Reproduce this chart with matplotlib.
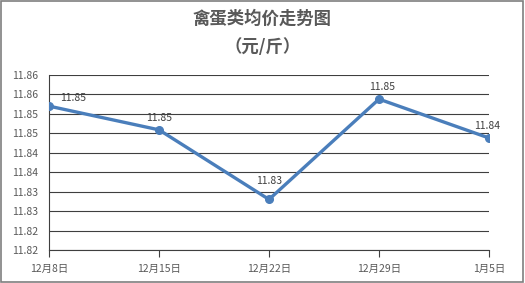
import matplotlib
matplotlib.use("Agg")
import matplotlib.pyplot as plt
from matplotlib.patches import Rectangle

plt.rcParams['font.family'] = ['Noto Sans CJK SC', 'DejaVu Sans']

dates = ['12月8日', '12月15日', '12月22日', '12月29日', '1月5日']
prices = [11.852, 11.8459, 11.828, 11.8538, 11.8438]
price_labels = ['11.85', '11.85', '11.83', '11.85', '11.84']
y_ticks = [11.815, 11.820, 11.825, 11.830, 11.835, 11.840, 11.845, 11.850, 11.855, 11.860]
y_tick_labels = ['11.82', '11.82', '11.83', '11.83', '11.84', '11.84', '11.85', '11.85', '11.86', '11.86']

line_color = '#4a7ebb'
text_color = '#595959'
grid_color = '#3f3f3f'

fig = plt.figure(figsize=(5.25, 2.83), dpi=100)
ax = fig.add_axes([49 / 525, 33 / 283, 440 / 525, 175 / 283])

# chart border
fig.patches.append(Rectangle((0.002, 0.004), 0.995, 0.992, transform=fig.transFigure,
                             fill=False, edgecolor='#7f7f7f', linewidth=1.2))

x = list(range(len(dates)))
ax.plot(x, prices, '-o', color=line_color, linewidth=2.4, markersize=5.5, zorder=3)

offsets = [(17, 2), (0, 5), (0, 10), (2, 5), (-1, 5)]
for i, (v, lab) in enumerate(zip(prices, price_labels)):
    ax.annotate(lab, (x[i], v), xytext=offsets[i], textcoords='offset points',
                ha='center', va='bottom', fontsize=7.5, color='#404040')

ax.set_xlim(0, len(dates) - 1)
ax.set_ylim(y_ticks[0], y_ticks[-1])
ax.set_yticks(y_ticks)
ax.set_yticklabels(y_tick_labels)
ax.set_xticks(x)
ax.set_xticklabels(dates)
ax.grid(axis='y', color=grid_color, linewidth=0.8)
ax.set_axisbelow(True)

for s in ['top', 'right']:
    ax.spines[s].set_visible(False)
for s in ['left', 'bottom']:
    ax.spines[s].set_color(grid_color)
    ax.spines[s].set_linewidth(0.8)

ax.tick_params(axis='y', length=0, labelsize=7.5, labelcolor=text_color, pad=8)
ax.tick_params(axis='x', length=5, direction='out', color=grid_color,
               labelsize=7.5, labelcolor=text_color, pad=5)

fig.text(0.5, 0.935, '禽蛋类均价走势图', ha='center', va='center',
         fontsize=12.5, fontweight='bold', color=text_color)
fig.text(0.5, 0.835, '（元/斤）', ha='center', va='center',
         fontsize=12.5, fontweight='bold', color=text_color)

fig.savefig('out.png', dpi=100)
